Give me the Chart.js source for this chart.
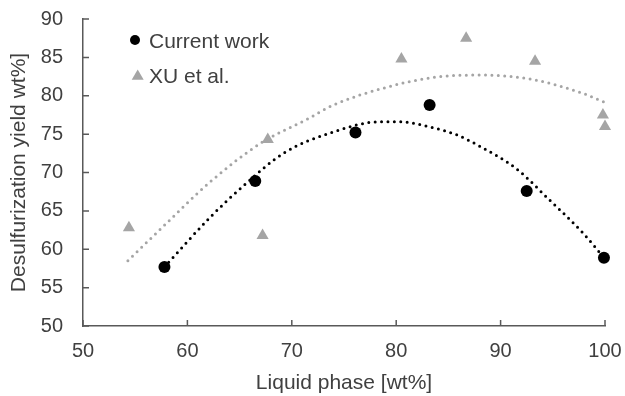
<!DOCTYPE html>
<html>
<head>
<meta charset="utf-8">
<title>Desulfurization yield vs liquid phase</title>
<script src="https://cdn.jsdelivr.net/npm/chart.js@4"></script>
<style>
  html, body { margin: 0; padding: 0; background: #fff; }
  #wrap { position: relative; width: 625px; height: 396px; }
</style>
</head>
<body>
<div id="wrap"><canvas id="yieldChart"></canvas></div>
<script>
// measured points
const currentX = [57.8, 66.5, 76.1, 83.2, 92.5, 99.9];
const currentY = [57.7, 68.9, 75.2, 78.8, 67.6, 58.9];
const xuX = [54.4, 67.2, 67.7, 80.5, 86.7, 93.3, 99.8, 100.0];
const xuY = [62.8, 61.8, 74.3, 84.8, 87.5, 84.5, 77.5, 76.0];

// polynomial trendlines (points along each fitted curve)
const currentTrendX = [57.8, 62.2, 65.4, 69.2, 74.0, 78.4, 80.4, 83.6, 85.8, 88.3, 91.5, 94.7, 97.9, 99.9];
const currentTrendY = [57.7, 64.2, 68.3, 72.5, 75.3, 76.6, 76.6, 75.8, 74.9, 73.2, 70.5, 66.4, 62.1, 58.9];
const xuTrendX = [54.3, 57.4, 62.2, 67.0, 71.4, 74.0, 78.8, 83.6, 88.3, 93.1, 97.9, 99.9];
const xuTrendY = [58.5, 62.6, 68.8, 73.8, 76.9, 78.8, 81.0, 82.4, 82.7, 82.1, 80.3, 79.2];

// axis ticks
const xTicks = [50, 60, 70, 80, 90, 100];
const yTicks = [50, 55, 60, 65, 70, 75, 80, 85, 90];

const seriesNames = ['Current work', 'XU et al.'];

const BLACK = '#000000';
const GREY = '#a5a5a5';
const AXIS = '#595959';
const TEXT = '#404040';

Chart.defaults.font.family = "'Liberation Sans', Arial, sans-serif";
Chart.defaults.color = TEXT;

const toPoints = (xs, ys) => xs.map((x, i) => ({ x: x, y: ys[i] }));

// small tick marks pointing into the plot
const innerTicks = {
  id: 'innerTicks',
  afterDraw(chart) {
    const { ctx, chartArea, scales } = chart;
    ctx.save();
    ctx.strokeStyle = AXIS;
    ctx.lineWidth = 1.5;
    ctx.beginPath();
    xTicks.forEach(v => {
      const px = scales.x.getPixelForValue(v);
      ctx.moveTo(px, chartArea.bottom);
      ctx.lineTo(px, chartArea.bottom - 6);
    });
    yTicks.forEach(v => {
      const py = scales.y.getPixelForValue(v);
      ctx.moveTo(chartArea.left, py);
      ctx.lineTo(chartArea.left + 6, py);
    });
    ctx.stroke();
    ctx.restore();
  }
};

// legend in the upper-left corner of the plot
const cornerLegend = {
  id: 'cornerLegend',
  afterDraw(chart) {
    const ctx = chart.ctx;
    ctx.save();
    ctx.fillStyle = BLACK;
    ctx.beginPath();
    ctx.arc(135, 40, 5, 0, Math.PI * 2);
    ctx.fill();

    ctx.fillStyle = GREY;
    ctx.beginPath();
    ctx.moveTo(137.7, 69.5);
    ctx.lineTo(143.7, 79.8);
    ctx.lineTo(131.7, 79.8);
    ctx.closePath();
    ctx.fill();

    ctx.fillStyle = TEXT;
    ctx.font = "21px 'Liberation Sans', Arial, sans-serif";
    ctx.textBaseline = 'alphabetic';
    ctx.fillText(seriesNames[0], 149, 48.3);
    ctx.fillText(seriesNames[1], 149, 83.3);
    ctx.restore();
  }
};

new Chart(document.getElementById('yieldChart'), {
  type: 'scatter',
  data: {
    datasets: [
      {
        label: seriesNames[0],
        data: toPoints(currentX, currentY),
        pointStyle: 'circle',
        pointRadius: 6,
        pointBackgroundColor: BLACK,
        pointBorderColor: BLACK,
        pointBorderWidth: 0,
        clip: false,
        order: 1
      },
      {
        label: seriesNames[1],
        data: toPoints(xuX, xuY),
        pointStyle: 'triangle',
        pointRadius: 7,
        pointBackgroundColor: GREY,
        pointBorderColor: GREY,
        pointBorderWidth: 0,
        clip: false,
        order: 1
      },
      {
        label: 'Poly. (' + seriesNames[0] + ')',
        type: 'line',
        data: toPoints(currentTrendX, currentTrendY),
        showLine: true,
        pointRadius: 0,
        borderColor: BLACK,
        borderWidth: 3,
        borderDash: [0, 6.4],
        borderCapStyle: 'round',
        cubicInterpolationMode: 'monotone',
        fill: false,
        clip: false,
        order: 2
      },
      {
        label: 'Poly. (' + seriesNames[1] + ')',
        type: 'line',
        data: toPoints(xuTrendX, xuTrendY),
        showLine: true,
        pointRadius: 0,
        borderColor: GREY,
        borderWidth: 3,
        borderDash: [0, 6.4],
        borderCapStyle: 'round',
        cubicInterpolationMode: 'monotone',
        fill: false,
        clip: false,
        order: 2
      }
    ]
  },
  options: {
    responsive: true,
    maintainAspectRatio: false,
    animation: false,
    layout: { padding: { top: 19, right: 20, bottom: 0, left: 0 } },
    plugins: {
      legend: { display: false },
      tooltip: { enabled: false }
    },
    scales: {
      x: {
        type: 'linear',
        min: 50,
        max: 100,
        afterBuildTicks: scale => { scale.ticks = xTicks.map(v => ({ value: v })); },
        afterFit: scale => {
          scale.height = 70;
          scale.paddingLeft = 0;
          scale.paddingRight = 0;
        },
        grid: { display: false, drawTicks: false },
        border: { display: true, color: AXIS, width: 1.5 },
        ticks: { font: { size: 20 }, color: TEXT, padding: 13, maxRotation: 0 },
        title: {
          display: true,
          text: 'Liquid phase [wt%]',
          font: { size: 21 },
          color: TEXT,
          padding: { top: 0, bottom: 0 }
        }
      },
      y: {
        type: 'linear',
        min: 50,
        max: 90,
        afterBuildTicks: scale => { scale.ticks = yTicks.map(v => ({ value: v })); },
        afterFit: scale => {
          scale.width = 83;
          scale.paddingTop = 0;
          scale.paddingBottom = 0;
        },
        grid: { display: false, drawTicks: false },
        border: { display: true, color: AXIS, width: 1.5 },
        ticks: { font: { size: 20 }, color: TEXT, padding: 20 },
        title: {
          display: true,
          text: 'Desulfurization yield wt%]',
          font: { size: 21 },
          color: TEXT,
          padding: { top: 7, bottom: 0 }
        }
      }
    }
  },
  plugins: [innerTicks, cornerLegend]
});
</script>
</body>
</html>
